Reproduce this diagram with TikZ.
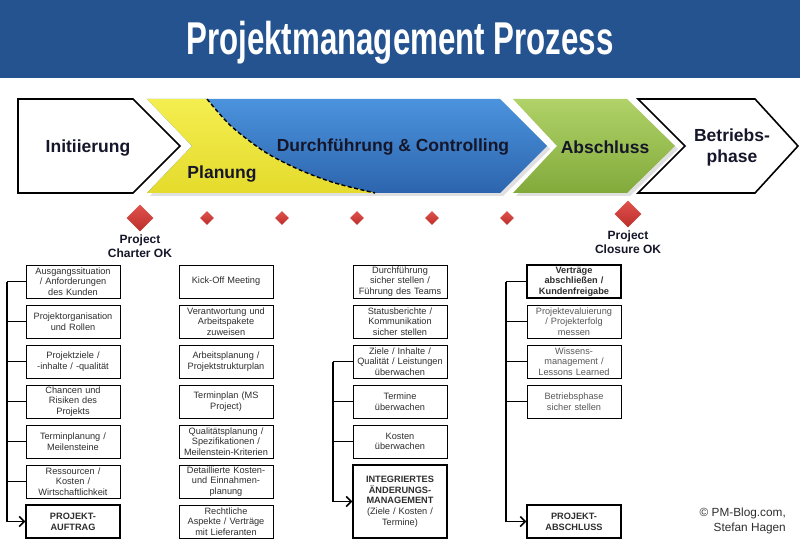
\documentclass[tikz,border=0pt]{standalone}
\usepackage{fontspec}
\setmainfont{Liberation Sans}
\usetikzlibrary{shapes.geometric,arrows.meta}
\definecolor{titleblue}{HTML}{24538F}
\definecolor{blueTop}{HTML}{4B93DD}
\definecolor{blueBot}{HTML}{2C65AE}
\definecolor{yelTop}{HTML}{F4EE50}
\definecolor{yelBot}{HTML}{E4DB2C}
\definecolor{grnTop}{HTML}{B0D268}
\definecolor{grnBot}{HTML}{82AA3B}
\definecolor{msTop}{HTML}{E0524C}
\definecolor{msBot}{HTML}{BC2E2A}
\definecolor{labeltext}{HTML}{16162A}
\definecolor{boxtext}{HTML}{2E2E2E}
\definecolor{graytext}{HTML}{585858}
\begin{document}
\begin{tikzpicture}[x=1pt,y=-1pt,
  box/.style={draw=black, line width=0.8pt, fill=white, minimum width=94pt,
    minimum height=33pt, text width=92pt, align=center, inner sep=1pt,
    font=\fontsize{9.2}{10.7}\selectfont, text=boxtext},
  boldbox/.style={box, line width=1.4pt, font=\fontsize{9.2}{10.7}\selectfont\bfseries},
  graybox/.style={box, text=graytext},
  phaselabel/.style={font=\fontsize{17.5}{20}\selectfont\bfseries, text=labeltext, align=center},
  bigms/.style={diamond, top color=msTop, bottom color=msBot, draw=none,
    minimum width=27pt, minimum height=27pt, inner sep=0pt},
  smallms/.style={diamond, top color=msTop, bottom color=msBot, draw=none,
    minimum width=14pt, minimum height=14pt, inner sep=0pt},
  mslabel/.style={font=\fontsize{12}{14}\selectfont\bfseries, text=labeltext, align=center},
  bracket/.style={line width=1.5pt, draw=black},
  bracketarrow/.style={bracket, -{Straight Barb[length=5pt,width=10pt,line width=1.5pt]}}
]
\useasboundingbox (0,0) rectangle (800,548);
\fill[white] (0,0) rectangle (800,548);

% title bar
\fill[titleblue] (0,0) rectangle (800,78);
\node[anchor=base, text=white, inner sep=0pt] (title) at (400,55)
  {\scalebox{0.68}[1]{\fontsize{46}{46}\selectfont\bfseries Projektmanagement Prozess}};

% shadows
\fill[black, opacity=0.12] (150,102) -- (503,102) -- (550,149) -- (503,196) -- (150,196) -- (195,149) -- cycle;
\fill[black, opacity=0.12] (516,102) -- (630,102) -- (678,149) -- (630,196) -- (516,196) -- (560,149) -- cycle;

% Initiierung chevron
\draw[fill=white, line width=1.6pt, line join=miter] (18,99) -- (133,99) -- (180,146) -- (133,193) -- (18,193) -- cycle;
% Planung / Durchfuehrung chevron
\shade[top color=blueTop, bottom color=blueBot] (147,99) -- (500,99) -- (547,146) -- (500,193) -- (147,193) -- (192,146) -- cycle;
\shade[top color=yelTop, bottom color=yelBot] (147,99) -- plot[smooth] coordinates {(207,99) (231,126) (265,152) (300,170) (335,183) (375,193)} -- (147,193) -- (192,146) -- cycle;
\draw[line width=1.4pt, dash pattern=on 4pt off 2.5pt] plot[smooth] coordinates {(207,99) (231,126) (265,152) (300,170) (335,183) (375,193)};
% Abschluss chevron
\shade[top color=grnTop, bottom color=grnBot] (513,99) -- (627,99) -- (675,146) -- (627,193) -- (513,193) -- (557,146) -- cycle;
% Betriebsphase chevron
\draw[fill=white, line width=1.6pt, line join=miter] (638,99) -- (755,99) -- (798,146) -- (755,193) -- (638,193) -- (685,146) -- cycle;

\node[phaselabel] (pInit) at (88,148) {Initiierung};
\node[phaselabel] (pPlan) at (222,174) {Planung};
\node[phaselabel] (pDurch) at (393,147) {Durchführung \& Controlling};
\node[phaselabel] (pAbs) at (605,147) {Abschluss};
\node[phaselabel, font=\fontsize{17.5}{21}\selectfont\bfseries] (pBetr) at (732,147) {Betriebs-\\phase};

% milestones
\node[bigms] (ms1) at (140,218) {};
\node[smallms] (ms2) at (207,218) {};
\node[smallms] (ms3) at (282,218) {};
\node[smallms] (ms4) at (357,218) {};
\node[smallms] (ms5) at (432,218) {};
\node[smallms] (ms6) at (507,218) {};
\node[bigms] (ms7) at (628,214) {};
\node[mslabel] (lab1) at (140,246.5) {Project\\Charter OK};
\node[mslabel] (lab7) at (628,242.5) {Project\\Closure OK};

% column 1
\node[box] (a1) at (73,281.5) {Ausgangssituation\\/ Anforderungen\\des Kunden};
\node[box] (a2) at (73,321.5) {Projektorganisation\\und Rollen};
\node[box] (a3) at (73,361.5) {Projektziele /\\-inhalte / -qualität};
\node[box] (a4) at (73,401.5) {Chancen und\\Risiken des\\Projekts};
\node[box] (a5) at (73,441.5) {Terminplanung /\\Meilensteine};
\node[box] (a6) at (73,481.5) {Ressourcen /\\Kosten /\\Wirtschaftlichkeit};
\node[boldbox] (a7) at (73,521.5) {PROJEKT-\\AUFTRAG};

% column 2
\node[box] (b1) at (226,281.5) {Kick-Off Meeting};
\node[box] (b2) at (226,321.5) {Verantwortung und\\Arbeitspakete\\zuweisen};
\node[box] (b3) at (226,361.5) {Arbeitsplanung /\\Projektstrukturplan};
\node[box] (b4) at (226,401.5) {Terminplan (MS\\Project)};
\node[box] (b5) at (226,441.5) {Qualitätsplanung /\\Spezifikationen /\\Meilenstein-Kriterien};
\node[box] (b6) at (226,481.5) {Detaillierte Kosten-\\und Einnahmen-\\planung};
\node[box] (b7) at (226,521.5) {Rechtliche\\Aspekte / Verträge\\mit Lieferanten};

% column 3
\node[box] (c1) at (400,281.5) {Durchführung\\sicher stellen /\\Führung des Teams};
\node[box] (c2) at (400,321.5) {Statusberichte /\\Kommunikation\\sicher stellen};
\node[box] (c3) at (400,361.5) {Ziele / Inhalte /\\Qualität / Leistungen\\überwachen};
\node[box] (c4) at (400,401.5) {Termine\\überwachen};
\node[box] (c5) at (400,441.5) {Kosten\\überwachen};
\node[box, line width=1.4pt, minimum height=73pt] (c6) at (400,501.5) {\textbf{INTEGRIERTES}\\\textbf{ÄNDERUNGS-}\\\textbf{MANAGEMENT}\\(Ziele / Kosten /\\Termine)};

% column 4
\node[boldbox] (d1) at (574,281.5) {Verträge\\abschließen /\\Kundenfreigabe};
\node[graybox] (d2) at (574,321.5) {Projektevaluierung\\/ Projekterfolg\\messen};
\node[graybox] (d3) at (574,361.5) {Wissens-\\management /\\Lessons Learned};
\node[graybox] (d4) at (574,401.5) {Betriebsphase\\sicher stellen};
\node[boldbox] (d5) at (574,521.5) {PROJEKT-\\ABSCHLUSS};

% brackets
\coordinate (ra) at (7,0);
\coordinate (rc) at (333,0);
\coordinate (rd) at (506,0);
\foreach \n in {a1,a2,a3,a4,a5,a6} {\draw[bracket] (\n.west) -- (\n.west -| ra);}
\draw[bracketarrow] (a1.west -| ra) |- (a7.west);
\foreach \n in {c3,c4,c5} {\draw[bracket] (\n.west) -- (\n.west -| rc);}
\draw[bracketarrow] (c3.west -| rc) |- (c6.west);
\foreach \n in {d1,d2,d3,d4} {\draw[bracket] (\n.west) -- (\n.west -| rd);}
\draw[bracketarrow] (d1.west -| rd) |- (d5.west);

% copyright
\node[anchor=north east, align=right, font=\fontsize{11.8}{15}\selectfont, text=boxtext, inner sep=0pt] (copy) at (786,508) {© PM-Blog.com,\\Stefan Hagen};
\end{tikzpicture}
\end{document}
